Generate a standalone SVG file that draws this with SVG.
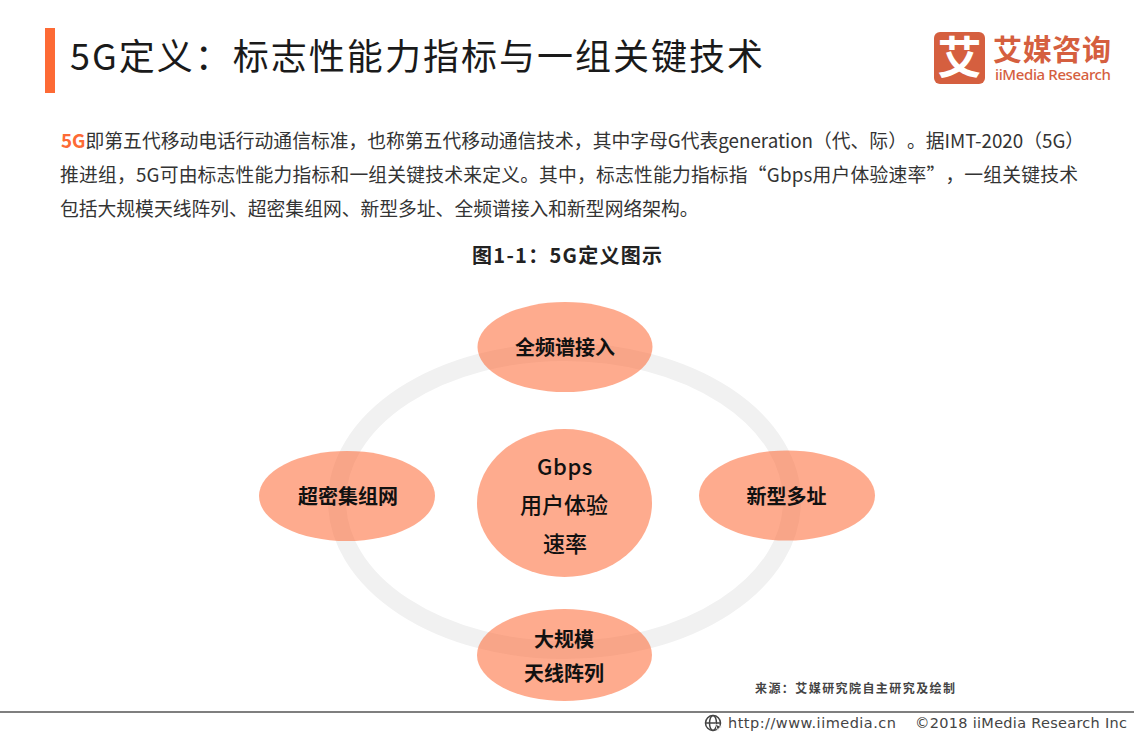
<svg xmlns="http://www.w3.org/2000/svg" width="1134" height="737" viewBox="0 0 1134 737">
<style>
text{font-family:"Noto Sans CJK SC","Noto Sans",sans-serif;fill:#1a1a1a;text-spacing-trim:space-all}
.body{font-size:18.8px;fill:#333}
.node{fill:#fd6a35;fill-opacity:.56}
.lab{font-size:20px;font-weight:700;text-anchor:middle;fill:#111}
.lab2{font-size:22px;font-weight:500;text-anchor:middle;fill:#111}
</style>
<rect width="1134" height="737" fill="#fff"/>
<rect x="45" y="28" width="10" height="65" fill="#fd6a35"/>
<text x="70" y="70" font-size="36" textLength="693" lengthAdjust="spacing">5G定义：标志性能力指标与一组关键技术</text>
<g id="logo">
<rect x="934" y="32" width="51" height="52" rx="6" fill="#d55f3f"/>
<text x="959.500" y="74" font-size="44" font-weight="700" text-anchor="middle" style="fill:#fff">艾</text>
<text x="993" y="61" font-size="29" font-weight="700" textLength="118" style="fill:#d55f3f">艾媒咨询</text>
<text x="995" y="80" font-size="15" font-weight="500" textLength="116" style="fill:#d55f3f;font-family:'Noto Sans',sans-serif">iiMedia Research</text>
</g>
<text class="body" x="61" y="148"><tspan style="fill:#fd6a35;font-weight:700">5G</tspan>即第五代移动电话行动通信标准，也称第五代移动通信技术，其中字母G代表generation（代、际）。据IMT-2020（5G）</text>
<text class="body" x="60" y="182" textLength="1018">推进组，5G可由标志性能力指标和一组关键技术来定义。其中，标志性能力指标指“Gbps用户体验速率”，一组关键技术</text>
<text class="body" x="60" y="216">包括大规模天线阵列、超密集组网、新型多址、全频谱接入和新型网络架构。</text>
<text x="472" y="263" font-size="20" font-weight="700" textLength="190" style="fill:#222">图1-1：5G定义图示</text>
<g id="connectors"><ellipse cx="564.500" cy="501" rx="227.500" ry="149" fill="none" stroke="#f1f1f1" stroke-width="18"/></g>
<g id="node-top"><ellipse class="node" cx="565" cy="347" rx="87.500" ry="45"/><text class="lab" x="565" y="355">全频谱接入</text></g>
<g id="node-left"><ellipse class="node" cx="347" cy="496" rx="88" ry="45"/><text class="lab" x="348" y="504">超密集组网</text></g>
<g id="node-right"><ellipse class="node" cx="787" cy="495.500" rx="88" ry="45"/><text class="lab" x="786.500" y="504">新型多址</text></g>
<g id="node-center"><ellipse class="node" cx="564.500" cy="503" rx="87.500" ry="74"/>
<text class="lab2" x="565" y="475" style="letter-spacing:.6px">Gbps</text><text class="lab2" x="564" y="513">用户体验</text><text class="lab2" x="565" y="552">速率</text></g>
<g id="node-bottom"><ellipse class="node" cx="564.500" cy="655" rx="87.500" ry="46"/><text class="lab" x="564" y="647">大规模</text><text class="lab" x="564" y="681">天线阵列</text></g>
<text x="755" y="693" font-size="12" font-weight="700" textLength="200" style="fill:#444">来源：艾媒研究院自主研究及绘制</text>
<line x1="0" y1="712" x2="1134" y2="712" stroke="#7f7f7f" stroke-width="2"/>
<g id="footer-icon" fill="none" stroke="#444" stroke-width="1.500"><circle cx="713" cy="723" r="7.500"/><ellipse cx="713" cy="723" rx="3.500" ry="7.500"/><line x1="705.500" y1="723" x2="720.500" y2="723"/><path d="M715 724l7 3-3 1-1 3z" fill="#444" stroke="#fff" stroke-width=".8"/></g>
<text x="728" y="728" font-size="14.500" textLength="168" style="fill:#444;font-family:'DejaVu Sans',sans-serif">http://www.iimedia.cn</text>
<text x="915" y="728" font-size="14.500" textLength="212" style="fill:#444;font-family:'DejaVu Sans',sans-serif">©2018  iiMedia Research Inc</text>
</svg>
